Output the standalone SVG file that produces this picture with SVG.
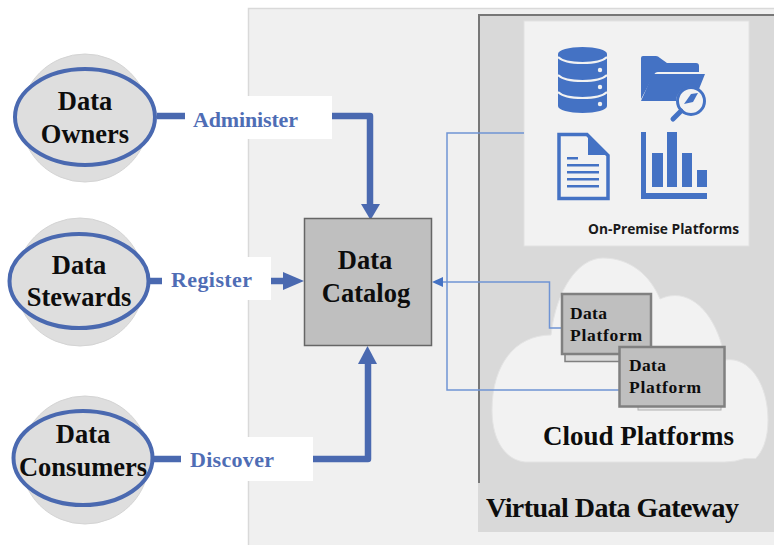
<svg xmlns="http://www.w3.org/2000/svg" width="774" height="545" viewBox="0 0 774 545">
<style>
.t{font-family:"Liberation Serif","Times New Roman",serif;font-weight:700;fill:#0d0d0d}
.n{font-size:26.5px;text-anchor:middle}
.l{font-family:"Liberation Serif","Times New Roman",serif;font-weight:700;font-size:22px;fill:#4f6db5}
.p{font-size:17.5px}
.ic{fill:#4472c4}
.bg{fill:#dedede;stroke:#d4d4d4;stroke-width:1}
.el{fill:#dedede;stroke:#4a69b0;stroke-width:4}
.c{fill:none;stroke:#4a69b0;stroke-width:6.500;stroke-linejoin:round}
.h{fill:#4a69b0}
.w{fill:#fff}
.f{fill:none;stroke:#6f94d4;stroke-width:1.500}
.pl{fill:#bfbfbf;stroke:#808080;stroke-width:2.500}
.gap{fill:none;stroke:#f2f2f2;stroke-width:2}
</style>
<rect width="774" height="545" fill="#fff"/>
<g id="platform-panel">
<rect x="248.500" y="8.500" width="530" height="540" fill="#f0f0f0" stroke="#d9d9d9" stroke-width="1.500"/>
</g>
<g id="virtual-data-gateway">
<rect x="479" y="15" width="300" height="470" fill="#d9d9d9" stroke="#777" stroke-width="2"/>
<rect x="478" y="483" width="296" height="49" fill="#d9d9d9"/>
<text class="t" x="486" y="517" font-size="28" textLength="253" lengthAdjust="spacing">Virtual Data Gateway</text>
</g>
<g id="on-premise-platforms">
<rect x="524" y="21" width="225" height="225" fill="#f2f2f2" stroke="#e2e2e2"/>
<g id="database-icon">
<path class="ic" d="M558 54c0-4 11-7 24.500-7s24.500 3 24.500 7v52c0 4-11 7-24.500 7s-24.500-3-24.500-7z"/>
<path class="gap" d="M558 57c4 4 14 6 24.500 6s20.500-2 24.500-6M558 75c4 4 14 6 24.500 6s20.500-2 24.500-6M558 92c4 4 14 6 24.500 6s20.500-2 24.500-6"/>
<circle cx="600" cy="70" r="2.200" fill="#f2f2f2"/>
<circle cx="600" cy="87" r="2.200" fill="#f2f2f2"/>
<circle cx="600" cy="104" r="2.200" fill="#f2f2f2"/>
</g>
<g id="folder-icon">
<path class="ic" d="M641 58q0-2 2-2h13q2 0 4 2l7 5h29q3 0 3 3v6h-41q-3 0-4 3l-13 24z"/>
<path class="ic" d="M653 74h52l-6 15a15 15 0 0 0-23 12h-35z"/>
<circle cx="691" cy="101" r="13.500" fill="#f2f2f2" stroke="#4472c4" stroke-width="3"/>
<path class="ic" d="M684 104l7-10 7-1-5 9z"/>
<path d="M681 111l-8 8" stroke="#4472c4" stroke-width="5" stroke-linecap="round" fill="none"/>
</g>
<g id="document-icon">
<path d="M559 134.500h28l21 21v43h-49z" fill="#f2f2f2" stroke="#4472c4" stroke-width="3.500"/>
<path class="ic" d="M588 137l19 18h-19z"/>
<path class="ic" d="M567 157h11v2.500h-11zM567 164h32v2.500h-32zM567 171h32v2.500h-32zM567 178h32v2.500h-32zM567 185h32v2.500h-32z"/>
</g>
<g id="chart-icon" class="ic">
<path d="M641 132h5v61h61v6h-66z"/>
<rect x="652" y="153" width="11" height="34"/>
<rect x="667" y="132" width="10" height="55"/>
<rect x="682" y="153" width="10" height="34"/>
<rect x="697" y="170" width="10" height="17"/>
</g>
<text x="588" y="234" font-family="'Open Sans','Liberation Sans',sans-serif" font-weight="700" font-size="14" fill="#1a1a1a" textLength="151" lengthAdjust="spacingAndGlyphs">On-Premise Platforms</text>
</g>
<g id="cloud-platforms">
<path d="M525 462C505 460 492 440 492 410C492 365 515 335 551 335C556 290 578 258 603 258C630 258 650 275 660 299C690 285 718 315 725 360C750 356 768 385 768 420C768 440 762 452 756 458V458.500H745Q735 462 725 462Z" fill="#f2f2f2" stroke="#e4e4e4"/>
<text class="t" x="543" y="445" font-size="27" textLength="191" lengthAdjust="spacing">Cloud Platforms</text>
</g>
<g id="connectors">
<path class="f" d="M524 133H447V390H620"/>
<path class="f" d="M563 328H549.500V282H440"/>
<path d="M432 282l11-5v10z" fill="#4472c4"/>
<path class="c" d="M157 116H185"/>
<path class="c" d="M332 116H370V206"/>
<path d="M361 204h19l-9.500 16z" class="h"/>
<path class="c" d="M148 281H165"/>
<path class="c" d="M271 281H290"/>
<path d="M283 272l21 9-21 9z" class="h"/>
<path class="c" d="M152 459H181"/>
<path class="c" d="M313 459H368V362"/>
<path d="M358 364h19l-9.500-18z" class="h"/>
</g>
<g id="label-administer">
<rect class="w" x="185" y="96" width="147" height="43"/>
<text class="l" x="193" y="127" textLength="105" lengthAdjust="spacing">Administer</text>
</g>
<g id="label-register">
<rect class="w" x="162" y="257" width="109" height="43"/>
<text class="l" x="171" y="287" textLength="81" lengthAdjust="spacing">Register</text>
</g>
<g id="label-discover">
<rect class="w" x="181" y="437" width="132" height="44"/>
<text class="l" x="190" y="467" textLength="84" lengthAdjust="spacing">Discover</text>
</g>
<g id="data-catalog">
<rect x="304.500" y="218.500" width="127" height="127" fill="#bfbfbf" stroke="#666" stroke-width="1.500"/>
<text class="t n" x="365" y="269">Data</text>
<text class="t n" x="366" y="302">Catalog</text>
</g>
<g id="data-owners">
<circle class="bg" cx="85" cy="118" r="64"/>
<ellipse class="el" cx="85" cy="117" rx="70" ry="48"/>
<text class="t n" x="85" y="110">Data</text>
<text class="t n" x="85" y="143">Owners</text>
</g>
<g id="data-stewards">
<circle class="bg" cx="80" cy="282" r="64"/>
<ellipse class="el" cx="79" cy="281" rx="69.500" ry="47"/>
<text class="t n" x="79" y="274">Data</text>
<text class="t n" x="79" y="306">Stewards</text>
</g>
<g id="data-consumers">
<circle class="bg" cx="85" cy="460" r="64"/>
<ellipse class="el" cx="83" cy="458" rx="69.500" ry="47"/>
<text class="t n" x="83" y="443">Data</text>
<text class="t n" x="83" y="476">Consumers</text>
</g>
<g id="data-platform-1">
<rect x="565" y="300" width="83" height="61.500" fill="#d9d9d9" stroke="#808080" stroke-width="1.500"/>
<rect class="pl" x="562" y="294" width="89" height="60"/>
<text class="t p" x="570" y="319" textLength="37" lengthAdjust="spacing">Data</text>
<text class="t p" x="570" y="341" textLength="72" lengthAdjust="spacing">Platform</text>
</g>
<g id="data-platform-2">
<rect x="638" y="400" width="83" height="10" fill="#e4e4e4" stroke="#b0b0b0" stroke-width="1"/>
<rect class="pl" x="619.500" y="347" width="105" height="59.500"/>
<text class="t p" x="629" y="371" textLength="37" lengthAdjust="spacing">Data</text>
<text class="t p" x="629" y="393" textLength="72" lengthAdjust="spacing">Platform</text>
</g>
</svg>
